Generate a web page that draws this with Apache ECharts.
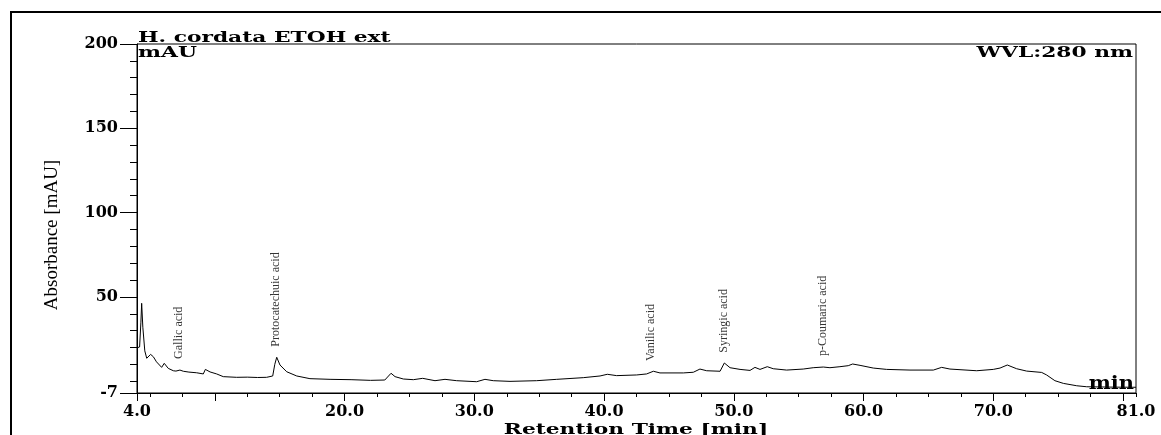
<!DOCTYPE html>
<html lang="en">
<head>
    <meta charset="UTF-8" />
    <title>H. cordata ETOH ext</title>
    <script type="text/javascript" src="https://cdn.jsdelivr.net/npm/echarts@6/dist/echarts.min.js"></script>
    <style type="text/css">
        html, body { margin: 0; padding: 0; background: #fff; }
        #chart { width: 1161px; height: 435px; }
    </style>
</head>
<body>
    <div id="chart"></div>
    <script type="text/javascript">
        // retention time [min] / absorbance [mAU]
        var retTime = [4.0, 4.2, 4.3, 4.36, 4.45, 4.6, 4.75, 4.9, 5.05, 5.26, 5.5, 5.9, 6.1, 6.41, 6.8, 7.0, 7.31, 7.57, 8.0, 8.6,
            9.11, 9.27, 9.63, 10.14, 10.65, 11.68, 12.5, 13.3, 13.99, 14.46, 14.62, 14.77, 15.02, 15.54, 16.31, 17.33, 18.88, 20.5, 22.0, 23.1,
            23.58, 23.89, 24.53, 25.3, 26.02, 26.97, 27.74, 28.64, 30.18, 30.82, 31.46, 32.75, 34.8, 36.35, 38.4, 39.69, 40.25, 40.97, 42.51, 43.28,
            43.8, 44.31, 46.11, 46.88, 47.39, 47.91, 48.94, 49.27, 49.71, 50.48, 51.25, 51.63, 52.02, 52.58, 53.04, 54.07, 55.35, 56.12, 56.9, 57.41,
            58.18, 58.82, 59.16, 59.73, 60.75, 61.78, 63.58, 65.38, 66.02, 66.66, 68.72, 70.0, 70.52, 71.08, 71.8, 72.57, 73.73, 74.11, 74.75, 75.4,
            76.43, 77.2, 79.0, 81.0];
        var absorbance = [19.8, 20.3, 35, 46.2, 32, 18, 13.6, 14.5, 15.9, 14.5, 11.5, 8.2, 10.6, 7.6, 6.2, 6.0, 6.6, 5.9, 5.4, 5.0,
            4.3, 7.0, 5.5, 4.3, 2.7, 2.3, 2.4, 2.2, 2.3, 3.1, 10, 14.2, 9.6, 5.6, 3.1, 1.5, 1.1, 0.9, 0.5, 0.7,
            4.7, 2.7, 1.3, 0.9, 1.7, 0.3, 1.1, 0.3, -0.3, 1.1, 0.3, -0.1, 0.3, 1.1, 2.1, 3.1, 4.1, 3.3, 3.7, 4.3,
            5.9, 4.9, 4.9, 5.3, 7.2, 6.2, 5.9, 10.8, 8.0, 7.0, 6.4, 8.2, 7.0, 8.6, 7.4, 6.6, 7.2, 8.0, 8.4, 8.0,
            8.6, 9.2, 10.2, 9.4, 7.8, 7.0, 6.6, 6.6, 8.2, 7.2, 6.2, 7.0, 7.8, 9.6, 7.4, 6.0, 5.2, 3.7, 0.3, -1.3,
            -2.7, -3.3, -3.5, -3.6];

        // peak annotations: name, retention time, height where the label starts
        var peakNames = ['Gallic acid', 'Protocatechuic acid', 'Vanilic acid', 'Syringic acid', 'p-Coumaric acid'];
        var peakTimes = [7.2, 14.7, 43.6, 49.2, 56.9];
        var peakLabelAt = [13.2, 20.5, 12.0, 16.9, 14.9];

        // axis ticks and labels
        var yMin = -7, yMax = 200;
        var yMinorTicks = [0, 10, 20, 30, 40, 60, 70, 80, 90, 110, 120, 130, 140, 160, 170, 180, 190];
        var yLabels = [-7, 50, 100, 150, 200];
        var xMin = 4, xMax = 81;
        var xMinorTicks = [5, 7.5, 12.5, 15, 17.5, 22.5, 25, 27.5, 32.5, 35, 37.5, 42.5, 45, 47.5, 52.5, 55, 57.5,
            62.5, 65, 67.5, 72.5, 75, 77.5, 81];
        var xMajorTicks = [4, 10, 20, 30, 40, 50, 60, 70, 80];
        var xLabels = [4, 20, 30, 40, 50, 60, 70, 81];

        var boldFont = 'bold 15px "DejaVu Serif"';
        var stretch = 1.45;

        var chart = echarts.init(document.getElementById('chart'));

        var trace = retTime.map(function (t, i) { return [t, absorbance[i]]; });
        var peaks = peakTimes.map(function (t, i) { return { value: [t, peakLabelAt[i]], name: peakNames[i] }; });

        var labelStyle = { color: '#000', fontFamily: 'DejaVu Serif', fontWeight: 'bold', fontSize: 16 };

        var option = {
            backgroundColor: '#fff',
            animation: false,
            grid: {
                left: 137, right: 25, top: 44, bottom: 42,
                show: true, borderColor: '#000', borderWidth: 1
            },
            xAxis: [
                {
                    type: 'value', min: xMin, max: xMax, position: 'bottom',
                    axisLine: { show: true, onZero: false, lineStyle: { color: '#000', width: 1 } },
                    axisTick: { show: true, length: 4, customValues: xMinorTicks, lineStyle: { color: '#000' } },
                    axisLabel: { show: false },
                    splitLine: { show: false }
                },
                {
                    type: 'value', min: xMin, max: xMax, position: 'bottom',
                    axisLine: { show: false, onZero: false },
                    axisTick: { show: true, length: 8, customValues: xMajorTicks, lineStyle: { color: '#000' } },
                    axisLabel: {
                        show: true, margin: 11, customValues: xLabels,
                        color: labelStyle.color, fontFamily: labelStyle.fontFamily,
                        fontWeight: labelStyle.fontWeight, fontSize: labelStyle.fontSize,
                        formatter: function (v) { return v.toFixed(1); }
                    },
                    splitLine: { show: false }
                }
            ],
            yAxis: [
                {
                    type: 'value', min: yMin, max: yMax, position: 'left',
                    axisLine: { show: true, onZero: false, lineStyle: { color: '#000', width: 1 } },
                    axisTick: { show: true, length: 7, customValues: yMinorTicks, lineStyle: { color: '#000' } },
                    axisLabel: { show: false },
                    splitLine: { show: false }
                },
                {
                    type: 'value', min: yMin, max: yMax, position: 'left',
                    axisLine: { show: false, onZero: false },
                    axisTick: { show: true, length: 17, customValues: yLabels, lineStyle: { color: '#000' } },
                    axisLabel: {
                        show: true, margin: 19, customValues: yLabels,
                        color: labelStyle.color, fontFamily: labelStyle.fontFamily,
                        fontWeight: labelStyle.fontWeight, fontSize: labelStyle.fontSize
                    },
                    splitLine: { show: false }
                }
            ],
            series: [
                {
                    name: 'WVL 280 nm',
                    type: 'line',
                    xAxisIndex: 0, yAxisIndex: 0,
                    showSymbol: false,
                    lineStyle: { color: '#000', width: 1 },
                    data: trace
                },
                {
                    name: 'peaks',
                    type: 'scatter',
                    xAxisIndex: 0, yAxisIndex: 0,
                    symbolSize: 0,
                    label: {
                        show: true, position: 'inside', rotate: 90,
                        align: 'left', verticalAlign: 'middle',
                        color: '#000', fontFamily: 'Liberation Serif', fontSize: 12,
                        formatter: function (p) { return p.name; }
                    },
                    data: peaks
                }
            ],
            graphic: [
                { type: 'line', shape: { x1: 10, y1: 12, x2: 1161, y2: 12 }, style: { stroke: '#000', lineWidth: 2 } },
                { type: 'line', shape: { x1: 11, y1: 11, x2: 11, y2: 435 }, style: { stroke: '#000', lineWidth: 2 } },
                { type: 'text', x: 138, y: 38, scaleX: stretch, style: { text: 'H. cordata ETOH ext', font: boldFont, fill: '#000', textAlign: 'left', textVerticalAlign: 'middle' } },
                { type: 'text', x: 138, y: 53, scaleX: stretch, style: { text: 'mAU', font: boldFont, fill: '#000', textAlign: 'left', textVerticalAlign: 'middle' } },
                { type: 'text', x: 1133, y: 53, scaleX: stretch, style: { text: 'WVL:280 nm', font: boldFont, fill: '#000', textAlign: 'right', textVerticalAlign: 'middle' } },
                { type: 'text', x: 1134, y: 384, scaleX: 1.1, style: { text: 'min', font: 'bold 19px "DejaVu Serif"', fill: '#000', textAlign: 'right', textVerticalAlign: 'middle' } },
                { type: 'text', x: 636, y: 430, scaleX: stretch, style: { text: 'Retention Time [min]', font: boldFont, fill: '#000', textAlign: 'center', textVerticalAlign: 'middle' } },
                { type: 'text', x: 52, y: 235, rotation: Math.PI / 2, style: { text: 'Absorbance [mAU]', font: '19px "Liberation Serif"', fill: '#000', textAlign: 'center', textVerticalAlign: 'middle' } }
            ]
        };
        chart.setOption(option);
    </script>
</body>
</html>
